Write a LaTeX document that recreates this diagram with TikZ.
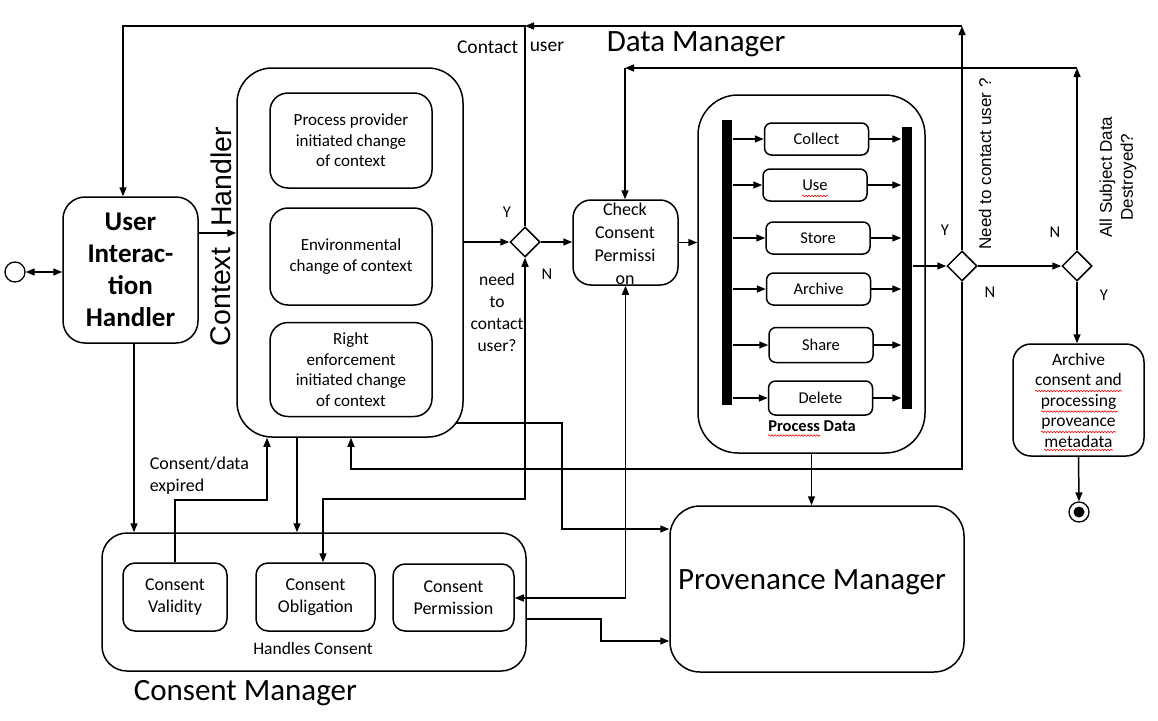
\documentclass[tikz,border=0pt]{standalone}
\usepackage{fontspec}
\setmainfont{Carlito}
\newfontfamily\arialf{Liberation Sans}
\usetikzlibrary{arrows.meta,shapes.geometric,decorations.pathmorphing}
\newcommand{\fs}[2]{\fontsize{#1}{#2}\selectfont}
\begin{document}
\begin{tikzpicture}[x=1pt,y=-1pt,line width=1.5pt,
  arr/.style={-{Triangle[length=9pt,width=7pt]}},
  arrtwo/.style={{Triangle[length=9pt,width=7pt]}-{Triangle[length=9pt,width=7pt]}},
  box/.style={draw,rounded corners=#1,inner sep=0pt,align=center},
  box/.default=18pt,
  act/.style={box=7pt,minimum width=104pt,minimum height=32pt,font=\fs{16.5}{19}},
  dia/.style={diamond,draw,aspect=1,minimum width=30pt,minimum height=30pt,inner sep=0pt},
  lbl/.style={inner sep=0pt,align=center},
  yn/.style={inner sep=0pt,font=\fs{16.5}{19}},
  spell/.style={red,line width=0.6pt,decorate,decoration={snake,amplitude=0.8pt,segment length=3pt}}]
\fill[white] (0,0) rectangle (1158,720);
\useasboundingbox (0,0) rectangle (1158,720);

% ---------- left part ----------
\node[circle,draw,minimum size=20pt,inner sep=0pt,line width=1.3pt] (start) at (15,272) {};
\node[box=22pt,minimum width=135pt,minimum height=146pt,font=\fs{27}{32}\bfseries] (uih) at (130.5,270) {User\\Interac-\\tion\\Handler};

\node[box=35pt,minimum width=226pt,minimum height=369pt] (ch) at (350,252.5) {};
\node[box=18pt,minimum width=162pt,minimum height=95pt,font=\fs{17}{20.5}] (p1) at (351,140.5) {Process provider\\initiated change\\of context};
\node[box=18pt,minimum width=162pt,minimum height=97pt,font=\fs{17}{20.5}] (p2) at (351,256.5) {Environmental\\change of context};
\node[box=18pt,minimum width=162pt,minimum height=94pt,font=\fs{17}{20.5}] (p3) at (351,369.5) {Right\\enforcement\\initiated change\\of context};
\node[lbl,font=\arialf\fs{28.5}{34},rotate=90] (ctxa) at (221,297) {Context};
\node[lbl,font=\arialf\fs{28.5}{34},rotate=90] (ctxb) at (221,177) {Handler};

\node[dia] (d1) at (525,242) {};
\node[yn] (y1) at (507,212) {Y};
\node[yn] (n1) at (547,274) {N};
\node[lbl,font=\fs{17.5}{22}] (ntc) at (497,312) {need\\to\\contact\\user?};
\node[lbl,font=\fs{19.5}{23},anchor=east] (cu1) at (519,47) {Contact};
\node[lbl,font=\fs{19.5}{23},anchor=west] (cu2) at (529,47) {user};

\node[box=18pt,minimum width=105pt,minimum height=85pt] (ccp) at (625.5,242.5) {};
\node[lbl,font=\fs{18}{23}] (ccpt) at (625,244) {Check\\Consent\\Permissi\\on};

\node[lbl,font=\fs{31}{36},anchor=west] (dmt) at (606,44) {Data Manager};

% ---------- process data ----------
\node[box=40pt,minimum width=227pt,minimum height=358pt] (pd) at (811.5,274) {};
\node[fill,inner sep=0pt,minimum width=10pt,minimum height=285pt] (lb) at (727,262.5) {};
\node[fill,inner sep=0pt,minimum width=10pt,minimum height=282pt] (rb) at (907,268) {};
\node[act] (collect) at (816.5,139) {Collect};
\node[act] (use) at (815,185) {Use};
\node[act] (store) at (818,238) {Store};
\node[act] (archive) at (818.5,289) {Archive};
\node[act,minimum height=35pt] (share) at (821,345) {Share};
\node[act,minimum height=34pt] (delete) at (820.5,398) {Delete};
\node[lbl,font=\fs{16.5}{19}\bfseries] (pdl) at (812,426) {Process Data};
\foreach \a in {collect,use,store,archive,share,delete}{
  \draw[arr] (lb.east |- \a) -- (\a.west);
  \draw[arr] (\a.east) -- (rb.west |- \a);
}
\draw[spell] (802,196) -- (828,196);
\draw[spell] (768,435.5) -- (820,435.5);

% ---------- right part ----------
\node[dia] (d2) at (962,266) {};
\node[dia] (d3) at (1077,266) {};
\node[yn] (y2) at (945,230) {Y};
\node[yn] (n2) at (990,292) {N};
\node[yn] (n3) at (1055,232) {N};
\node[yn] (y3) at (1104,295) {Y};
\node[lbl,font=\arialf\fs{17}{20},rotate=90] (nq) at (985,164) {Need to contact user ?};
\node[lbl,font=\arialf\fs{17}{21},rotate=90] (asd) at (1118,177) {All Subject Data\\Destroyed?};
\node[box=18pt,minimum width=131pt,minimum height=112pt,font=\fs{17.5}{20.5}] (arch) at (1078.5,400) {Archive\\consent and\\processing\\proveance\\metadata};
\draw[spell] (1035,391) -- (1122,391);
\draw[spell] (1041,411.5) -- (1117,411.5);
\draw[spell] (1041,432) -- (1116,432);
\draw[spell] (1044,450) -- (1113,450);
\node[circle,draw,minimum size=20pt,inner sep=0pt,line width=1.3pt] (fin) at (1079,512) {};
\node[circle,fill,minimum size=11pt,inner sep=0pt] (finin) at (1079,512) {};

% ---------- bottom ----------
\node[box=30pt,minimum width=294pt,minimum height=166pt] (pm) at (817,589) {};
\node[lbl,font=\fs{31}{36}] (pmt) at (812,582) {Provenance Manager};

\node[box=25pt,minimum width=424pt,minimum height=138pt] (cm) at (314,602) {};
\node[box=12pt,minimum width=104pt,minimum height=68pt,font=\fs{18}{22}] (cv) at (175,597) {Consent\\Validity};
\node[box=12pt,minimum width=119pt,minimum height=68pt,font=\fs{18}{22}] (co) at (315.5,597) {Consent\\Obligation};
\node[box=12pt,minimum width=121pt,minimum height=67pt,font=\fs{18}{22}] (cp) at (453.5,597.5) {Consent\\Permission};
\node[lbl,font=\fs{17.5}{21}] (hc) at (313,648) {Handles Consent};
\node[lbl,font=\fs{31}{36},anchor=west] (cmt) at (133,693) {Consent Manager};
\node[lbl,font=\fs{18}{22},align=left,anchor=west] (cde) at (149,476) {Consent/data\\expired};

% ---------- connectors ----------
\draw[arrtwo] (start.east) -- (uih.west |- start);
\draw[arr] (uih.east |- 0,233) -- (ch.west |- 0,233);
\draw[arr] (ch.east |- d1) -- (d1.west);
\draw[arr] (d1.east) -- (ccp.west |- d1);
\draw[arr] (ccp.east) -- (pd.west |- ccp.east);
\draw[arr] (rb.east |- d2) -- (d2.west);
\draw[arr] (d2.east) -- (d3.west);
\draw[arr] (d3.south) -- (d3.south |- arch.north);
\draw[arr] (arch.south) -- (fin.north);

\coordinate (tl) at (123,26);
\coordinate (tm) at (525,26);
\coordinate (tr) at (962,26);
\draw[arr] (d2.north) -- (tr);
\draw[arr] (tr) -- (tm);
\draw[arr] (d1.north) -- (tm) -- (tl) -- (tl |- uih.north);

\coordinate (sl) at (625,68);
\coordinate (sr) at (1077,68);
\draw[arr] (d3.north) -- (sr);
\draw[arr] (sr) -- (sl);
\draw[arr] (sl) -- (sl |- ccp.north);

\coordinate (r1) at (962,469);
\coordinate (r2) at (351,469);
\draw[arr] (d2.south) -- (r1) -- (r2) -- (r2 |- ch.south);

\coordinate (c1) at (525,499);
\coordinate (c2) at (323,499);
\draw[arrtwo] (d1.south) -- (c1) -- (c2) -- (c2 |- co.north);

\coordinate (chx) at (456,423);
\draw[arr] (chx) -- (562,423) -- (562,529) -- (pm.west |- 0,529);
\draw[arr] (cm.east |- 0,619) -- (601,619) -- (601,641) -- (pm.west |- 0,641);
\draw[arrtwo] (ccp.south) -- (ccp.south |- 0,598) -- (cp.east |- 0,598);
\draw[arr] (pd.south) -- (pd.south |- pm.north);

\draw[arr] (134,0 |- uih.south) -- (134,0 |- cm.north);
\draw[arr] (cv.north) -- (cv.north |- 0,500) -- (267,500) -- (267,0 |- ch.south);
\draw[arr] (297,0 |- ch.south) -- (297,0 |- cm.north);
\end{tikzpicture}
\end{document}
